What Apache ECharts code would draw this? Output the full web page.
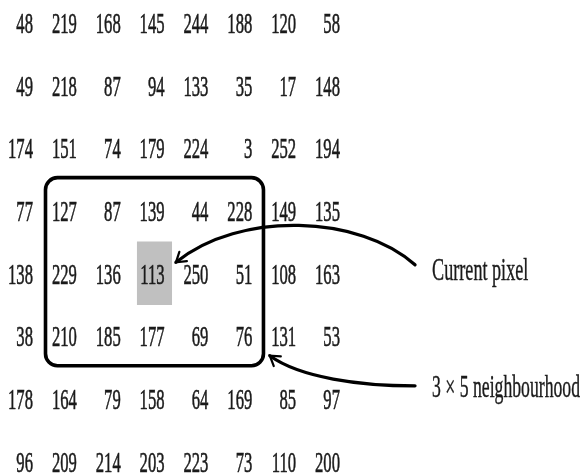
<!DOCTYPE html>
<html>
<head>
<meta charset="utf-8">
<script src="https://cdn.jsdelivr.net/npm/echarts@6/dist/echarts.min.js"></script>
<style>
html,body{margin:0;padding:0;background:#fff;}
#chart{width:580px;height:475px;}
</style>
</head>
<body>
<div id="chart"></div>
<script>
// Pixel values of the 8 x 8 image, one array per row (top to bottom)
const row0 = [48, 219, 168, 145, 244, 188, 120, 58];
const row1 = [49, 218, 87, 94, 133, 35, 17, 148];
const row2 = [174, 151, 74, 179, 224, 3, 252, 194];
const row3 = [77, 127, 87, 139, 44, 228, 149, 135];
const row4 = [138, 229, 136, 113, 250, 51, 108, 163];
const row5 = [38, 210, 185, 177, 69, 76, 131, 53];
const row6 = [178, 164, 79, 158, 64, 169, 85, 97];
const row7 = [96, 209, 214, 203, 223, 73, 110, 200];
const rows = [row0, row1, row2, row3, row4, row5, row6, row7];

// Current pixel (row, column) and the 3 x 5 neighbourhood (row range, column range)
const currentPixel = [4, 3];
const neighbourRows = [3, 5];
const neighbourCols = [1, 5];
const labelTexts = ['Current pixel', '3 \u00d7 5 neighbourhood'];

const cells = [];
rows.forEach((r, ri) => r.forEach((v, ci) => cells.push([ci, ri, v])));

const FONT = '"Liberation Serif", "Times New Roman", serif';
const SX = 0.555;
const INK = '#1a1a1a';

function arrowHead(tip, from, len, spread) {
  const dx = tip[0] - from[0], dy = tip[1] - from[1];
  const L = Math.hypot(dx, dy);
  const bx = -dx / L, by = -dy / L;
  const a = spread * Math.PI / 180;
  const r = (ang) => [tip[0] + len * (bx * Math.cos(ang) - by * Math.sin(ang)),
                      tip[1] + len * (bx * Math.sin(ang) + by * Math.cos(ang))];
  return [r(a), tip, r(-a)];
}

const chart = echarts.init(document.getElementById('chart'), null, {renderer: 'canvas'});
chart.setOption({
  backgroundColor: '#fff',
  animation: false,
  grid: {left: 33, right: 240, top: 24, bottom: 12},
  xAxis: {type: 'value', min: 0, max: 7, show: false},
  yAxis: {type: 'value', min: 0, max: 7, inverse: true, show: false},
  series: [
    {
      // grey current-pixel cell and rounded neighbourhood box
      type: 'custom',
      z: 1,
      data: [[currentPixel[1], currentPixel[0], neighbourCols[0], neighbourCols[1], neighbourRows[0], neighbourRows[1]]],
      renderItem: function (params, api) {
        const c = api.value(0), r = api.value(1);
        const g0 = api.coord([c - 0.63, r - 0.53]);
        const g1 = api.coord([c + 0.17, r + 0.48]);
        const b0 = api.coord([api.value(2) - 0.715, api.value(4) - 0.55]);
        const b1 = api.coord([api.value(3) + 0.255, api.value(5) + 0.45]);
        return {
          type: 'group',
          children: [
            {type: 'rect', shape: {x: g0[0], y: g0[1], width: g1[0] - g0[0], height: g1[1] - g0[1]},
             style: {fill: '#c0c0c0'}},
            {type: 'rect', shape: {x: b0[0], y: b0[1], width: b1[0] - b0[0], height: b1[1] - b0[1], r: 12},
             style: {fill: 'none', stroke: '#000', lineWidth: 3.6}}
          ]
        };
      }
    },
    {
      // the pixel values
      type: 'custom',
      z: 2,
      data: cells,
      renderItem: function (params, api) {
        const p = api.coord([api.value(0), api.value(1)]);
        return {
          type: 'text', x: p[0], y: p[1] + 1, scaleX: SX,
          style: {text: String(api.value(2)), font: '30px ' + FONT, fill: INK,
                  stroke: INK, lineWidth: 0.6,
                  align: 'right', verticalAlign: 'middle'}
        };
      }
    },
    {
      // arrows and captions
      type: 'custom',
      z: 3,
      data: [[currentPixel[1], currentPixel[0], neighbourCols[1], neighbourRows[1]]],
      renderItem: function (params, api) {
        const c = api.value(0), r = api.value(1);
        const bc = api.value(2), br = api.value(3);
        // arrow 1: caption -> current pixel
        const a0 = api.coord([c + 5.71, r - 0.16]);
        const a1 = api.coord([c + 4.46, r - 0.95]);
        const a2 = api.coord([c + 1.72, r - 1.03]);
        const a3 = api.coord([c + 0.26, r - 0.20]);
        // arrow 2: caption -> neighbourhood box
        const n0 = api.coord([bc + 3.71, br + 0.77]);
        const n1 = api.coord([bc + 2.46, br + 0.77]);
        const n2 = api.coord([bc + 1.09, br + 0.64]);
        const n3 = api.coord([bc + 0.40, br + 0.29]);
        const t1 = api.coord([c + 6.1, r - 0.04]);
        const t2 = api.coord([bc + 4.1, br + 0.82]);
        const lineStyle = {fill: 'none', stroke: '#000', lineWidth: 3.3, lineCap: 'round'};
        const headStyle = {fill: 'none', stroke: '#000', lineWidth: 2.2, lineCap: 'round', lineJoin: 'miter'};
        return {
          type: 'group',
          children: [
            {type: 'bezierCurve', shape: {x1: a0[0], y1: a0[1], cpx1: a1[0], cpy1: a1[1], cpx2: a2[0], cpy2: a2[1], x2: a3[0], y2: a3[1]}, style: lineStyle},
            {type: 'polyline', shape: {points: arrowHead(a3, a2, 11, 33)}, style: headStyle},
            {type: 'bezierCurve', shape: {x1: n0[0], y1: n0[1], cpx1: n1[0], cpy1: n1[1], cpx2: n2[0], cpy2: n2[1], x2: n3[0], y2: n3[1]}, style: lineStyle},
            {type: 'polyline', shape: {points: arrowHead(n3, n2, 11, 33)}, style: headStyle},
            {type: 'text', x: t1[0], y: t1[1], scaleX: 0.585,
             style: {text: labelTexts[0], font: '31px ' + FONT, fill: INK, stroke: INK, lineWidth: 0.4,
                     align: 'left', verticalAlign: 'middle'}},
            {type: 'text', x: t2[0], y: t2[1], scaleX: 0.57,
             style: {text: labelTexts[1], font: '31px ' + FONT, fill: INK, stroke: INK, lineWidth: 0.4,
                     align: 'left', verticalAlign: 'middle'}}
          ]
        };
      }
    }
  ]
});
</script>
</body>
</html>
